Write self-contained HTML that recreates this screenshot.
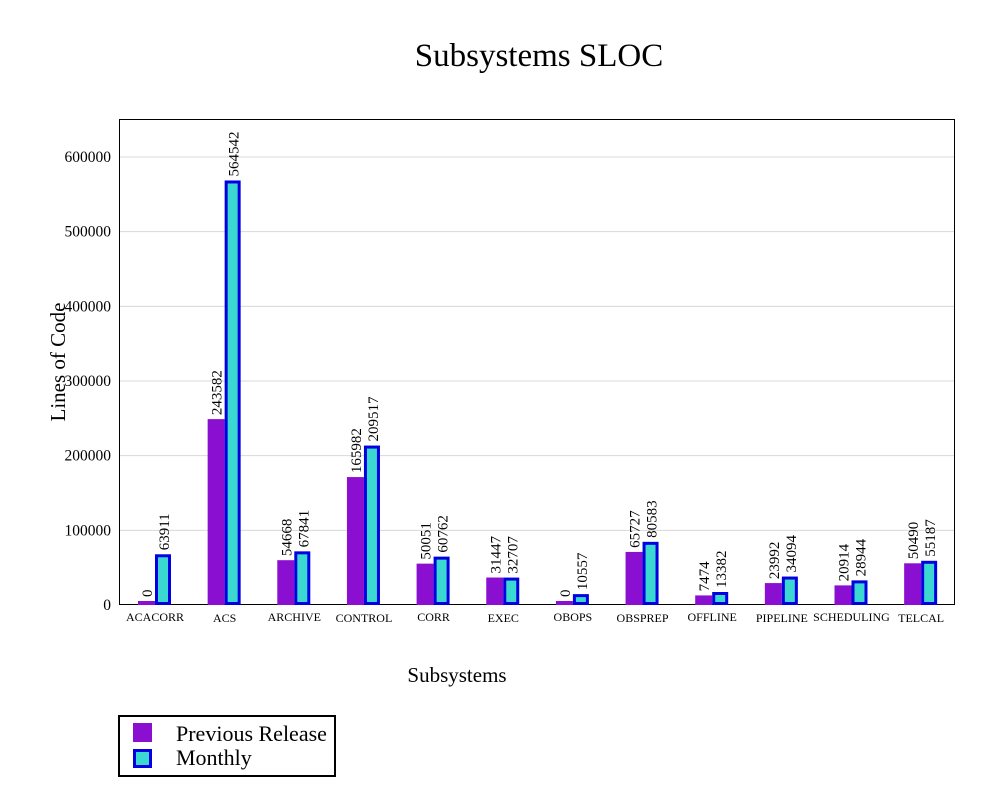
<!DOCTYPE html>
<html><head><meta charset="utf-8"><style>
body{margin:0;background:#fff;}
svg text{font-family:"Liberation Serif",serif;}
</style></head><body>
<svg id="chart" width="1000" height="795" xmlns="http://www.w3.org/2000/svg">
<text x="539" y="66" font-size="33" text-anchor="middle">Subsystems SLOC</text>
<g id="grid"></g>
<rect x="119.5" y="119.5" width="835" height="485" fill="none" stroke="#000" stroke-width="1"/>
<g id="yticks"></g>
<g id="bars"></g>
<g id="xlabels"></g>
<text transform="translate(65,362) rotate(-90)" font-size="21" text-anchor="middle">Lines of Code</text>
<text x="457" y="682" font-size="21" text-anchor="middle">Subsystems</text>
<g>
<rect x="119" y="716" width="216" height="60" fill="#fff" stroke="#000" stroke-width="2"/>
<rect x="133" y="723" width="19" height="19" fill="#8b0fd0"/>
<text x="176" y="741" font-size="22">Previous Release</text>
<rect x="134.5" y="750.5" width="16" height="16" fill="#3ad8d0" stroke="#0000e0" stroke-width="3"/>
<text x="176" y="765" font-size="22">Monthly</text>
</g>
</svg>
<script>
const categories=["ACACORR","ACS","ARCHIVE","CONTROL","CORR","EXEC","OBOPS","OBSPREP","OFFLINE","PIPELINE","SCHEDULING","TELCAL"];
const previousValues=[0,243582,54668,165982,50051,31447,0,65727,7474,23992,20914,50490];
const monthlyValues=[63911,564542,67841,209517,60762,32707,10557,80583,13382,34094,28944,55187];
const yTicks=[0,100000,200000,300000,400000,500000,600000];
const NS="http://www.w3.org/2000/svg";
const y0=605,yMax=600000,yTop=157;
function yS(v){return y0-v*(y0-yTop)/yMax;}
function xC(i){return 155+i*69.65;}
function mk(t,a,p){const e=document.createElementNS(NS,t);for(const k in a)e.setAttribute(k,a[k]);p.appendChild(e);return e;}
const grid=document.getElementById('grid'),yt=document.getElementById('yticks'),bars=document.getElementById('bars'),xl=document.getElementById('xlabels');
yTicks.forEach(v=>{
  const y=yS(v);
  if(v>0){const l=mk('line',{x1:120,x2:954,y1:y,y2:y,stroke:'#d8d8d8','stroke-width':1},grid);
  
  }
  const t=mk('text',{x:111,y:y+5,'font-size':15.5,'text-anchor':'end'},yt);
  t.textContent=v;
  
  
});
categories.forEach((c,i)=>{
  const cx=xC(i);
  const p=previousValues[i],m=monthlyValues[i];
  const py=yS(p)-4;
  const r1=mk('rect',{x:cx-17,y:py,width:17,height:y0-py,fill:'#8b0fd0'},bars);
  
  
  const my=yS(m)-3;
  const r2=mk('rect',{x:cx+1.5,y:my+1.5,width:13,height:y0-my-3,fill:'#3ad8d0',stroke:'#0000e0','stroke-width':3},bars);
  
  
  const t1=mk('text',{transform:`translate(${cx-3},${py-4}) rotate(-90)`,'font-size':15},bars);
  t1.textContent=p;
  
  
  const t2=mk('text',{transform:`translate(${cx+14},${my-4}) rotate(-90)`,'font-size':15},bars);
  t2.textContent=m;
  
  
  const xt=mk('text',{x:cx,y:621+(i%2?1:0),'font-size':12,'text-anchor':'middle'},xl);
  xt.textContent=c;
  
  
});
</script>
</body></html>
